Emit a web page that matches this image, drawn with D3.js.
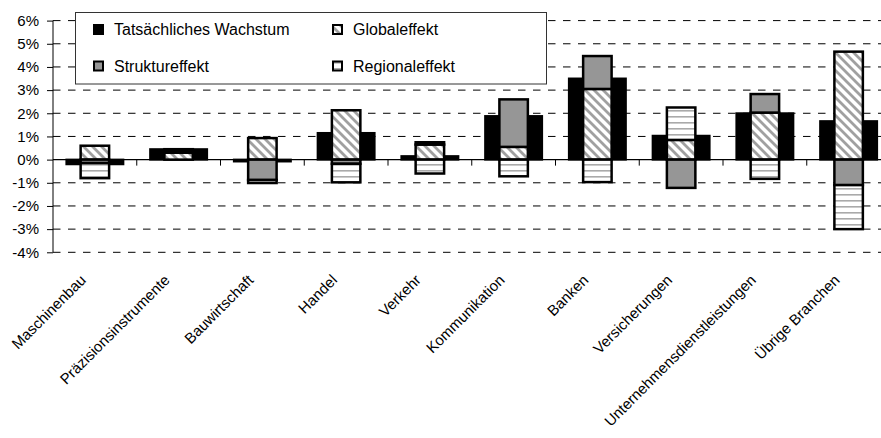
<!DOCTYPE html>
<html>
<head>
<meta charset="utf-8">
<script src="https://cdn.jsdelivr.net/npm/d3@7"></script>
<style>
  html, body { margin: 0; padding: 0; background: #fff; }
  svg { display: block; font-family: "Liberation Sans", Arial, sans-serif; }
</style>
</head>
<body>
<svg id="chart" width="881" height="438"></svg>
<script>
// Shift-share decomposition of employment growth by branch (% p.a.)
const categories = ["Maschinenbau", "Präzisionsinstrumente", "Bauwirtschaft", "Handel", "Verkehr",
  "Kommunikation", "Banken", "Versicherungen", "Unternehmensdienstleistungen", "Übrige Branchen"];
const actualGrowth = [-0.2, 0.45, -0.08, 1.15, 0.15, 1.88, 3.5, 1.03, 2.0, 1.66];
const globalEffect = [0.6, 0.3, 0.93, 2.13, 0.65, 0.55, 3.05, 0.85, 2.03, 4.66];
const structureEffect = [-0.15, 0.07, -0.88, -0.18, 0.1, 2.05, 1.42, -1.22, 0.8, -1.1];
const regionalEffect = [-0.65, 0.08, -0.13, -0.8, -0.6, -0.72, -0.97, 1.4, -0.83, -1.9];
const yTicks = [-4, -3, -2, -1, 0, 1, 2, 3, 4, 5, 6];
const legendLabels = ["Tatsächliches Wachstum", "Globaleffekt", "Struktureffekt", "Regionaleffekt"];

const svg = d3.select("#chart");
const left = 53, bandW = 83.75;
const x = d3.scaleBand().domain(categories).range([left, left + bandW * categories.length]).padding(0);
const y = d3.scaleLinear().domain([-4, 6]).range([252.3, 20.6]);

// Fill patterns
const defs = svg.append("defs");
const hatch = defs.append("pattern").attr("id", "hatch").attr("patternUnits", "userSpaceOnUse")
  .attr("width", 9).attr("height", 9);
hatch.append("rect").attr("width", 9).attr("height", 9).attr("fill", "#fff");
hatch.append("path").attr("d", "M0,0L9,9M-3,6L3,12M6,-3L12,3")
  .attr("stroke", "#a0a0a0").attr("stroke-width", 2.8);
const hlines = defs.append("pattern").attr("id", "hlines").attr("patternUnits", "userSpaceOnUse")
  .attr("width", 6).attr("height", 6);
hlines.append("rect").attr("width", 6).attr("height", 6).attr("fill", "#fff");
hlines.append("rect").attr("y", 2).attr("width", 6).attr("height", 1.6).attr("fill", "#aaa");

const fills = { global: "url(#hatch)", structure: "#969696", regional: "url(#hlines)" };

// Dashed grid lines
svg.append("g").selectAll("line").data(yTicks.filter(d => d !== 0)).join("line")
  .attr("x1", left).attr("x2", 881).attr("y1", d => y(d)).attr("y2", d => y(d))
  .attr("stroke", "#000").attr("stroke-width", 1).attr("stroke-dasharray", "7.5,7.5");

// Y axis
const yAxis = svg.append("g").attr("transform", `translate(${left},0)`)
  .call(d3.axisLeft(y).tickValues(yTicks).tickFormat(d => d + "%").tickSize(6).tickPadding(8));
yAxis.select(".domain").attr("stroke", "#000").attr("d", `M0,${y(6)}V${y(-4)}`);
yAxis.selectAll(".tick line").attr("stroke", "#000");
yAxis.selectAll("text").attr("font-size", 15).attr("fill", "#000")
  .attr("font-family", "Liberation Sans, Arial, sans-serif");

// Zero line with category boundary ticks
svg.append("line").attr("x1", left).attr("x2", 881).attr("y1", y(0)).attr("y2", y(0))
  .attr("stroke", "#000").attr("stroke-width", 1.2);
svg.append("g").selectAll("line").data(categories.slice(1)).join("line")
  .attr("x1", d => x(d)).attr("x2", d => x(d)).attr("y1", y(0)).attr("y2", y(0) + 6)
  .attr("stroke", "#000");

// Actual growth: wide black bars
const wideW = bandW * 0.68;
svg.append("g").selectAll("rect").data(categories).join("rect")
  .attr("x", d => x(d) + (bandW - wideW) / 2)
  .attr("width", wideW)
  .attr("y", (d, i) => y(Math.max(0, actualGrowth[i])))
  .attr("height", (d, i) => Math.abs(y(actualGrowth[i]) - y(0)))
  .attr("fill", "#000").attr("stroke", "#000").attr("stroke-width", 2);

// Effects: narrow diverging stacks
const rows = categories.map((c, i) => ({ cat: c, global: globalEffect[i], structure: structureEffect[i], regional: regionalEffect[i] }));
const stack = d3.stack().keys(["global", "structure", "regional"]).offset(d3.stackOffsetDiverging);
const series = stack(rows);
const narrowW = bandW * 0.34;
svg.append("g").selectAll("g").data(series).join("g")
  .attr("fill", s => fills[s.key])
  .selectAll("rect").data(s => s).join("rect")
  .attr("x", d => x(d.data.cat) + (bandW - narrowW) / 2)
  .attr("width", narrowW)
  .attr("y", d => y(Math.max(d[0], d[1])))
  .attr("height", d => Math.abs(y(d[0]) - y(d[1])))
  .attr("stroke", "#000").attr("stroke-width", 2.5);

// Category labels, rotated
svg.append("g").selectAll("text").data(categories).join("text")
  .attr("transform", d => `translate(${x(d) + bandW / 2 - 8},281) rotate(-45)`)
  .attr("text-anchor", "end").attr("font-size", 15).attr("fill", "#000")
  .text(d => d);

// Legend
const legend = svg.append("g");
legend.append("rect").attr("x", 75.5).attr("y", 12.5).attr("width", 471).attr("height", 71.5)
  .attr("fill", "#fff").attr("stroke", "#333").attr("stroke-width", 1);
const legendFills = ["#000", fills.global, fills.structure, fills.regional];
const legendOrder = [0, 2, 1, 3];
legendOrder.forEach((k, j) => {
  const col = j < 2 ? 0 : 1, row = j % 2;
  const lx = col === 0 ? 94 : 333, ly = row === 0 ? 29.5 : 66;
  legend.append("rect").attr("x", lx).attr("y", ly - 4.5).attr("width", 9).attr("height", 9)
    .attr("fill", legendFills[k]).attr("stroke", "#000").attr("stroke-width", 2);
  legend.append("text").attr("x", lx + 20).attr("y", ly + 5.5).attr("font-size", 16).attr("fill", "#000")
    .text(legendLabels[k]);
});
</script>
</body>
</html>
